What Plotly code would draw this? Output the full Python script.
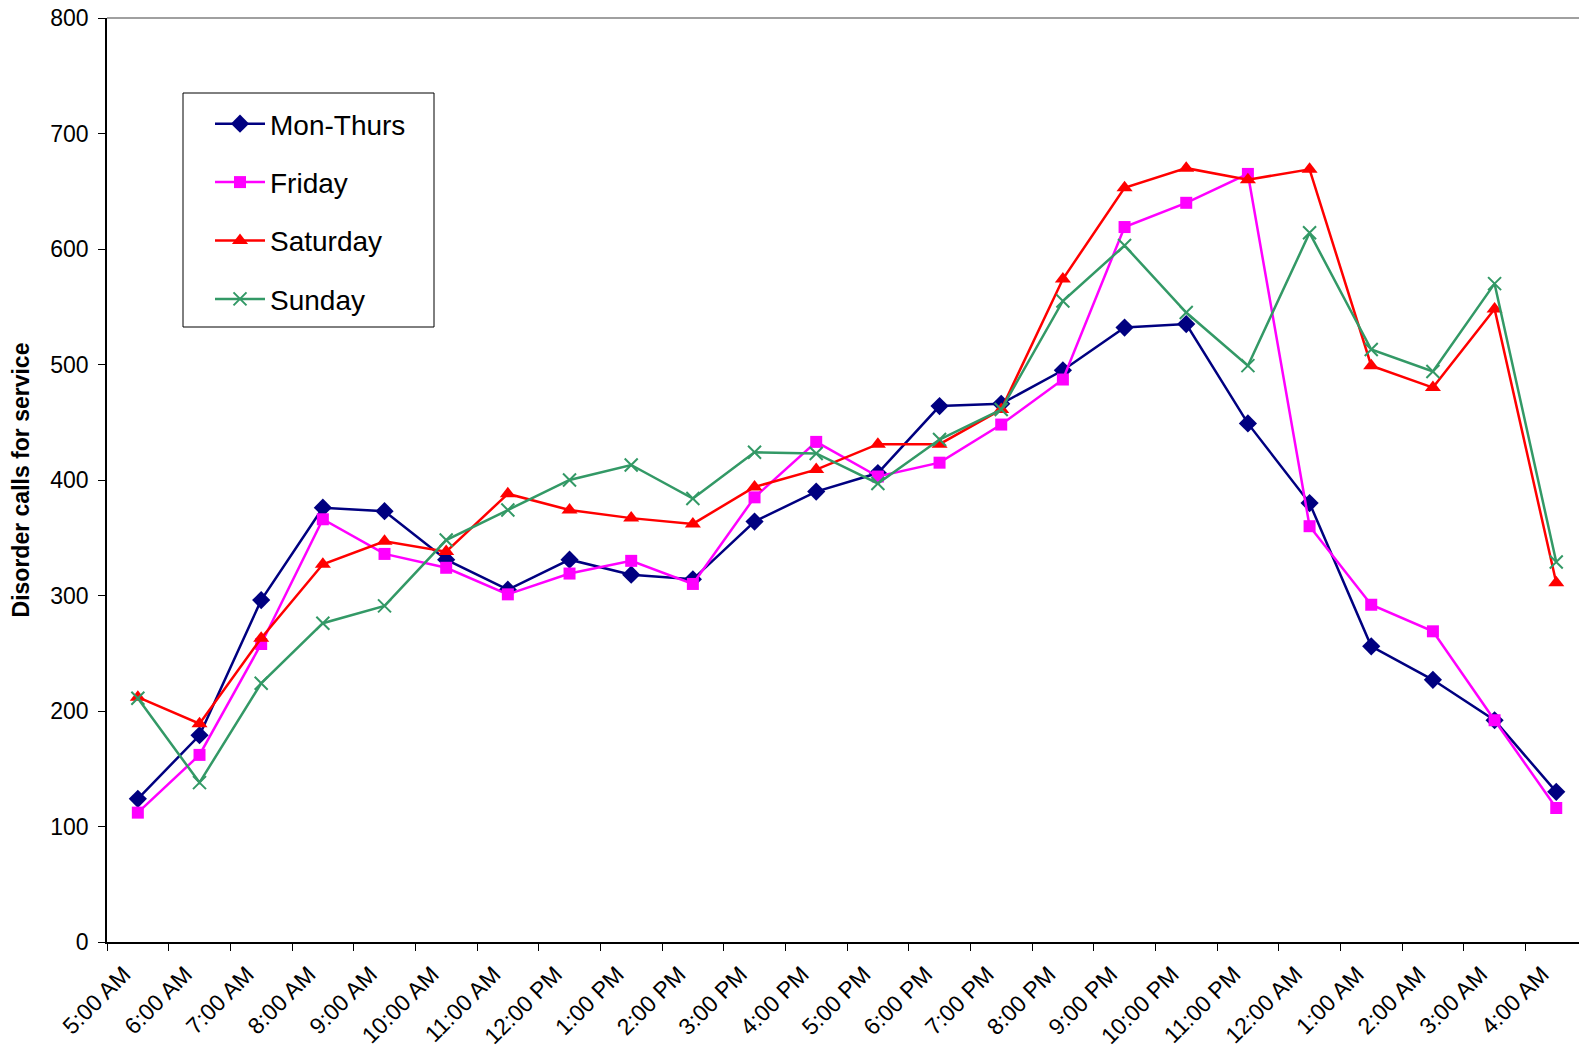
import plotly.graph_objects as go

# Hour-of-day categories (5 AM through 4 AM next day)
hours = ["5:00 AM", "6:00 AM", "7:00 AM", "8:00 AM", "9:00 AM", "10:00 AM",
         "11:00 AM", "12:00 PM", "1:00 PM", "2:00 PM", "3:00 PM", "4:00 PM",
         "5:00 PM", "6:00 PM", "7:00 PM", "8:00 PM", "9:00 PM", "10:00 PM",
         "11:00 PM", "12:00 AM", "1:00 AM", "2:00 AM", "3:00 AM", "4:00 AM"]

mon_thurs = [124, 179, 296, 376, 373, 331, 305, 331, 318, 314, 364, 390,
             406, 464, 466, 495, 532, 535, 449, 380, 256, 227, 192, 130]
friday = [112, 162, 258, 366, 336, 324, 301, 319, 330, 310, 385, 433,
          403, 415, 448, 487, 619, 640, 665, 360, 292, 269, 192, 116]
saturday = [212, 189, 263, 327, 347, 338, 388, 374, 367, 362, 394, 409,
            431, 431, 461, 574, 653, 670, 660, 669, 499, 480, 548, 311]
sunday = [211, 138, 224, 276, 291, 348, 374, 400, 413, 384, 424, 423,
          397, 435, 461, 555, 603, 545, 499, 614, 513, 494, 570, 329]

y_ticks = [0, 100, 200, 300, 400, 500, 600, 700, 800]

FONT = "Liberation Sans, Arial, sans-serif"

series = [
    ("Mon-Thurs", mon_thurs, "#000080", "diamond", 14),
    ("Friday", friday, "#FF00FF", "square", 12),
    ("Saturday", saturday, "#FF0000", "triangle-up", 14),
    ("Sunday", sunday, "#339966", "x-thin", 13),
]

fig = go.Figure()
for name, vals, color, sym, size in series:
    marker = dict(symbol=sym, size=size, color=color)
    if sym == "x-thin":
        marker["line"] = dict(color=color, width=2)
    else:
        marker["line"] = dict(width=0)
    fig.add_trace(go.Scatter(
        x=hours, y=vals, name=name, mode="lines+markers",
        line=dict(color=color, width=2.5),
        marker=marker, legendgroup=name,
    ))

W, H = 1579, 1048
L, T, B = 107, 18, 106
plot_w = W - L
plot_h = H - T - B
step = 61.67  # pixels per hour category


def px_x(px):
    return (px - L) / plot_w


def px_y(py):
    return (H - B - py) / plot_h


# legend frame drawn as a shape so the entries can sit inset within it
legend_box = dict(type="rect", xref="paper", yref="paper",
                  x0=px_x(183), x1=px_x(434), y0=px_y(327), y1=px_y(93),
                  line=dict(color="black", width=1), fillcolor="white",
                  layer="below")

fig.update_layout(
    width=W, height=H,
    margin=dict(l=L, r=0, t=T, b=B, autoexpand=False),
    paper_bgcolor="white", plot_bgcolor="white",
    font=dict(family=FONT, color="black", size=23),
    showlegend=True,
    legend=dict(
        x=px_x(210), y=px_y(99),
        xanchor="left", yanchor="top",
        bgcolor="rgba(0,0,0,0)", borderwidth=0,
        font=dict(size=28, family=FONT),
        tracegroupgap=19,
        traceorder="grouped",
        itemwidth=50,
    ),
    xaxis=dict(
        type="category", categoryorder="array", categoryarray=hours,
        range=[-0.5, -0.5 + plot_w / step],
        tickson="boundaries", ticks="outside", ticklen=7,
        tickcolor="black", tickwidth=1,
        showline=True, linecolor="black", linewidth=1.5,
        showgrid=False, zeroline=False, automargin=False,
        tickangle=-45, tickfont=dict(size=23),
        ticklabelshift=-14, ticklabelstandoff=8,
    ),
    yaxis=dict(
        range=[0, 800], tickvals=y_ticks,
        ticks="outside", ticklen=7, tickcolor="black", tickwidth=1,
        showline=True, linecolor="black", linewidth=1.5,
        showgrid=False, zeroline=False, automargin=False,
        ticklabelstandoff=5,
        tickfont=dict(size=23),
        title=dict(text="<b>Disorder calls for service</b>",
                   font=dict(size=23, family=FONT), standoff=14),
    ),
    shapes=[
        dict(type="line", xref="paper", yref="paper",
             x0=0, x1=1, y0=1, y1=1,
             line=dict(color="#808080", width=1.5)),
        legend_box,
    ],
)

fig.write_html("out.html")
